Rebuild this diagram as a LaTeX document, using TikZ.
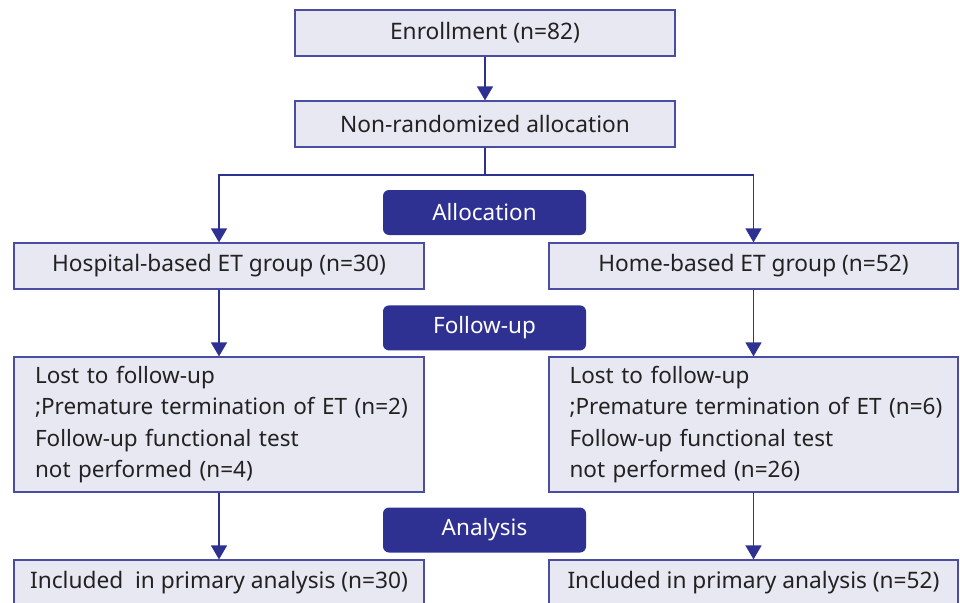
\documentclass[tikz,border=0pt]{standalone}
\usepackage{fontspec}
\setmainfont{Noto Sans}
\usetikzlibrary{positioning, arrows.meta}
\definecolor{boxfill}{HTML}{E8E8F3}
\definecolor{boxline}{HTML}{4A4DA2}
\definecolor{tagblue}{HTML}{2E3192}
\definecolor{textgray}{HTML}{222222}

\begin{document}
\begin{tikzpicture}[x=1pt, y=-1pt]
\tikzstyle{box} = [draw=boxline, fill=boxfill, line width=1.2pt, minimum height=46pt, inner sep=0pt, text=textgray, font=\fontsize{22.7}{26}\selectfont]
\tikzstyle{lostbox} = [box, align=left, text width=368pt, inner xsep=21pt, minimum height=135pt, font=\fontsize{22.5}{31.3}\selectfont]
\tikzstyle{tag} = [fill=tagblue, rounded corners=6pt, minimum width=203pt, minimum height=45pt, inner sep=0pt, text=white, font=\fontsize{22.5}{26}\selectfont]
\tikzstyle{edge} = [draw=tagblue, line width=1.4pt, -{Triangle[width=16pt,length=14pt]}]

\useasboundingbox (0,0) rectangle (960,602);

% Boxes
\node[box, minimum width=380pt] (enrol) at (485,33) {Enrollment (n=82)};
\node[box, minimum width=380pt] (nonrand) at (485,124) {Non-randomized allocation};
\node[box, minimum width=410pt] (hosp) at (219,266) {Hospital-based ET group (n=30)};
\node[box, minimum width=409pt] (home) at (753.5,266) {Home-based ET group (n=52)};
\node[lostbox] (losthosp) at (219,424.5) {Lost to follow-up\\\mbox{;Premature termination of ET (n=2)}\\Follow-up functional test\\not performed (n=4)};
\node[lostbox, inner xsep=20.5pt] (losthome) at (753.5,424.5) {Lost to follow-up\\\mbox{;Premature termination of ET (n=6)}\\Follow-up functional test\\not performed (n=26)};
\node[box, minimum width=410pt] (inclhosp) at (219,583) {Included\ \ in primary analysis (n=30)};
\node[box, minimum width=409pt] (inclhome) at (753.5,583) {Included in primary analysis (n=52)};

% Stage labels
\node[tag] (allocation) at (484.5,212.5) {Allocation};
\node[tag] (followup) [below =70pt of allocation] {Follow-up};
\node[tag] (analysis) at (484.5,530) {Analysis};

% Arrows
\coordinate (split) at (485,175);
\draw[edge] (enrol) -- (nonrand);
\draw[draw=tagblue, line width=1.4pt] (nonrand.south) -- (split);
\draw[edge] (split) -| (hosp.north);
\draw[edge] (split) -| (home.north);
\draw[edge] (hosp) -- (losthosp);
\draw[edge] (home) -- (losthome);
\draw[edge] (losthosp) -- (inclhosp);
\draw[edge] (losthome) -- (inclhome);

\end{tikzpicture}
\end{document}
